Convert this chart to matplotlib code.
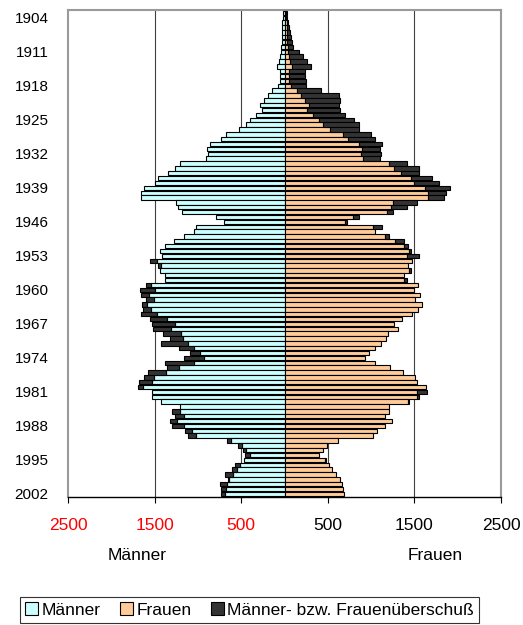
import numpy as np
import matplotlib.pyplot as plt
from matplotlib.patches import Patch

plt.rcParams['font.family'] = ['Liberation Sans', 'DejaVu Sans']

# Geburtsjahrgänge 1903 bis 2002 (Bestand in 1000)
jahre = list(range(1903, 2003))

maenner = [
    20, 20, 25, 25, 25, 30, 30, 35, 46, 57, 65,              # 1903-1913
    84, 57, 57, 57, 80, 145, 190, 235, 285, 260, 325, 395, 445,  # 1914-1926
    530, 675, 735, 860, 900, 880, 905, 1205, 1265, 1345, 1460, 1495, 1620,  # 1927-1939
    1660, 1660, 1250, 1235, 1185, 790, 700, 1020, 1050, 1155, 1275, 1385,  # 1940-1951
    1435, 1410, 1550, 1460, 1436, 1385, 1385, 1600, 1665, 1660, 1605, 1645, 1630,  # 1952-1964
    1655, 1550, 1530, 1515, 1400, 1320, 1425, 1215, 1090, 1165, 1380, 1360,  # 1965-1976
    1575, 1625, 1675, 1690, 1535, 1525, 1425, 1205, 1300, 1265, 1320, 1300, 1150,  # 1977-1989
    1118, 660, 536, 479, 452, 470, 575, 605, 689, 651, 745, 735, 728,  # 1990-2002
]

frauen = [
    25, 30, 35, 50, 65, 77, 88, 103, 172, 218, 257,           # 1903-1913
    306, 240, 240, 250, 245, 425, 632, 645, 632, 645, 700, 804, 860,  # 1914-1926
    860, 996, 1042, 1130, 1100, 1110, 1100, 1417, 1550, 1550, 1705, 1780, 1915,  # 1927-1939
    1870, 1845, 1525, 1410, 1255, 860, 720, 1130, 1050, 1205, 1385, 1425,  # 1940-1951
    1460, 1550, 1475, 1430, 1465, 1385, 1410, 1544, 1495, 1565, 1510, 1590, 1540,  # 1952-1964
    1475, 1360, 1265, 1305, 1200, 1175, 1110, 1040, 980, 925, 1040, 1220,  # 1965-1976
    1365, 1505, 1530, 1635, 1640, 1550, 1435, 1205, 1205, 1157, 1245, 1155, 1072,  # 1977-1989
    1020, 620, 490, 440, 395, 475, 510, 550, 590, 645, 660, 675, 690,  # 1990-2002
]

tick_jahre = list(range(1904, 2003, 7))
x_ticks = [-2500, -1500, -500, 500, 1500, 2500]
x_labels = ['2500', '1500', '500', '500', '1500', '2500']

col_m = '#CCFFFF'
col_f = '#FFCC99'
col_ue = '#333333'

y = np.array(jahre)
m = np.array(maenner)
f = np.array(frauen)
basis = np.minimum(m, f)
ue_m = m - basis
ue_f = f - basis

fig = plt.figure(figsize=(5.23, 6.25), dpi=100)
ax = fig.add_axes([0.130, 0.205, 0.828, 0.779])

h = 0.9
ax.barh(y, -basis, height=h, color=col_m, edgecolor='black', linewidth=0.8, zorder=3)
ax.barh(y, basis, height=h, color=col_f, edgecolor='black', linewidth=0.8, zorder=3)
sel = ue_m > 0
ax.barh(y[sel], -ue_m[sel], left=-basis[sel], height=h, color=col_ue,
        edgecolor='black', linewidth=0.8, zorder=3)
sel = ue_f > 0
ax.barh(y[sel], ue_f[sel], left=basis[sel], height=h, color=col_ue,
        edgecolor='black', linewidth=0.8, zorder=3)

ax.set_xlim(-2500, 2500)
ax.set_ylim(2002.6, 1902.4)

ax.set_yticks(tick_jahre)
ax.set_yticklabels([str(j) for j in tick_jahre], fontsize=11)
ax.tick_params(axis='y', length=0, pad=14)

ax.set_xticks(x_ticks)
ax.set_xticklabels(x_labels, fontsize=12.5)
ax.tick_params(axis='x', direction='out', length=4, width=0.8, pad=11)
for lbl, xt in zip(ax.get_xticklabels(), x_ticks):
    lbl.set_color('red' if xt < 0 else 'black')

for xg in [-1500, -500, 500, 1500]:
    ax.axvline(xg, color='#404040', linewidth=0.8, zorder=1)

for s in ['left', 'right', 'top']:
    ax.spines[s].set_color('#9a9a9a')
    ax.spines[s].set_linewidth(1.5)
ax.spines['bottom'].set_color('black')
ax.spines['bottom'].set_linewidth(1.0)

fig.text(0.262, 0.112, 'Männer', ha='center', va='center', fontsize=12.5)
fig.text(0.832, 0.112, 'Frauen', ha='center', va='center', fontsize=12.5)

handles = [
    Patch(facecolor=col_m, edgecolor='black', linewidth=0.8),
    Patch(facecolor=col_f, edgecolor='black', linewidth=0.8),
    Patch(facecolor=col_ue, edgecolor='black', linewidth=0.8),
]
leg = fig.legend(handles, ['Männer', 'Frauen', 'Männer- bzw. Frauenüberschuß'],
                 loc='center', bbox_to_anchor=(0.477, 0.024), ncol=3,
                 fontsize=12.5, frameon=True, fancybox=False,
                 handlelength=0.75, handleheight=0.75, handletextpad=0.2,
                 columnspacing=1.1, borderpad=0.3, borderaxespad=0)
leg.get_frame().set_edgecolor('black')
leg.get_frame().set_linewidth(0.8)

fig.savefig('out.png', dpi=100)
